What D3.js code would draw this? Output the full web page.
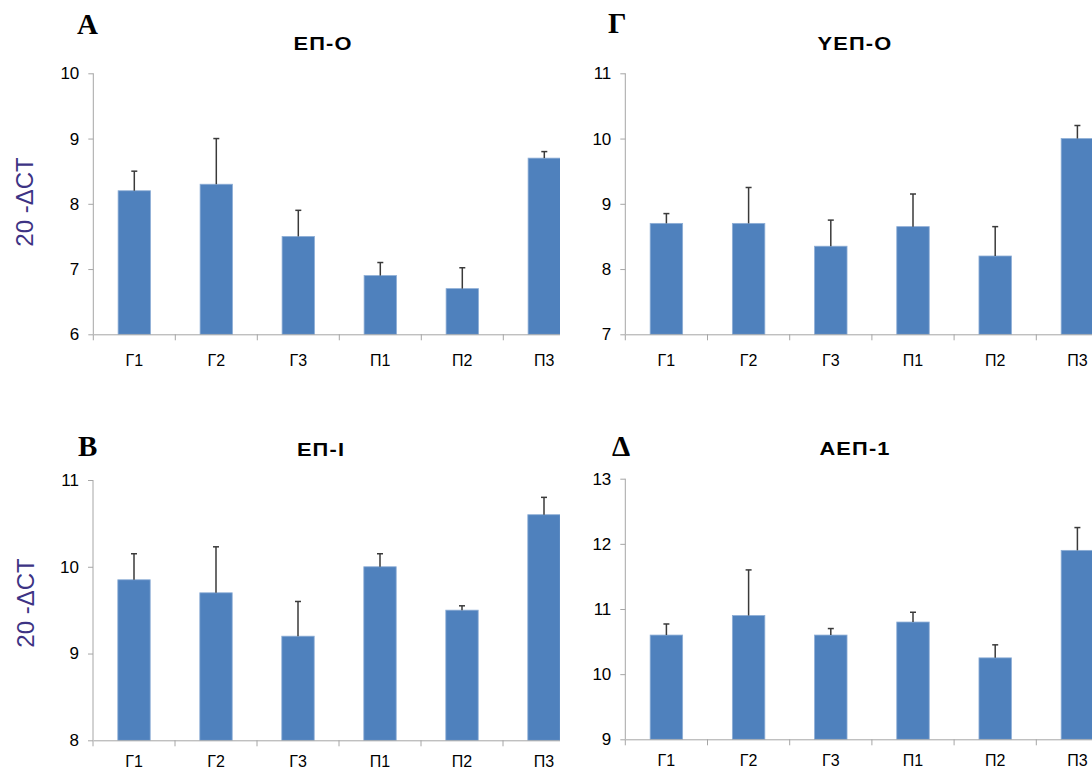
<!DOCTYPE html>
<html>
<head>
<meta charset="utf-8">
<script src="https://cdn.jsdelivr.net/npm/d3@7"></script>
<style>
  html, body { margin: 0; padding: 0; background: #ffffff; }
  svg { display: block; }
  .tick text { font-family: "Liberation Sans", Arial, sans-serif; fill: #000; }
</style>
</head>
<body>
<svg id="chart" width="1092" height="776"></svg>
<script>
// Expression levels (20 - ΔCT) per group, with upward error bars
const categories = ["Г1", "Г2", "Г3", "П1", "П2", "П3"];

const epO      = [8.2, 8.3, 7.5, 6.9, 6.7, 8.7];
const epOErr   = [0.3, 0.7, 0.4, 0.2, 0.32, 0.1];

const yepO     = [8.7, 8.7, 8.35, 8.65, 8.2, 10.0];
const yepOErr  = [0.15, 0.55, 0.4, 0.5, 0.45, 0.2];

const epI      = [9.85, 9.7, 9.2, 10.0, 9.5, 10.6];
const epIErr   = [0.3, 0.53, 0.4, 0.15, 0.05, 0.2];

const aep1     = [10.6, 10.9, 10.6, 10.8, 10.25, 11.9];
const aep1Err  = [0.17, 0.7, 0.1, 0.15, 0.2, 0.35];

const ticksA = [6, 7, 8, 9, 10];
const ticksG = [7, 8, 9, 10, 11];
const ticksB = [8, 9, 10, 11];
const ticksD = [9, 10, 11, 12, 13];

const yLabel = "20 -ΔCT";

const svg = d3.select("#chart");

const panels = [
  { letter: "А", title: "ЕП-О",  values: epO,  errs: epOErr,  ticks: ticksA, yLabel: true,
    x0: 93.3, band: 82.0, yTop: 73.3, yBot: 334.3, clip: [0, 560],
    letterX: 77, letterY: 34, titleX: 323, titleY: 50, labelX: 33, labelY: 202, catY: 366 },
  { letter: "Г", title: "YЕП-О", values: yepO, errs: yepOErr, ticks: ticksG, yLabel: false,
    x0: 625.3, band: 82.2, yTop: 73.3, yBot: 334.3, clip: [560, 1092],
    letterX: 608, letterY: 33, titleX: 855, titleY: 50, catY: 366 },
  { letter: "В", title: "ЕП-І",  values: epI,  errs: epIErr,  ticks: ticksB, yLabel: true,
    x0: 93.0, band: 82.0, yTop: 480.0, yBot: 740.3, clip: [0, 560],
    letterX: 78, letterY: 456, titleX: 321, titleY: 456, labelX: 34, labelY: 603, catY: 767 },
  { letter: "Δ", title: "АЕП-1", values: aep1, errs: aep1Err, ticks: ticksD, yLabel: false,
    x0: 625.3, band: 82.2, yTop: 478.7, yBot: 739.3, clip: [560, 1092],
    letterX: 612, letterY: 456, titleX: 855, titleY: 455, catY: 766 }
];

const defs = svg.append("defs");

panels.forEach((p, i) => {
  defs.append("clipPath").attr("id", "clip" + i)
    .append("rect")
    .attr("x", p.clip[0]).attr("y", 0)
    .attr("width", p.clip[1] - p.clip[0]).attr("height", 776);

  const g = svg.append("g").attr("clip-path", `url(#clip${i})`);

  const x = d3.scaleBand()
    .domain(categories)
    .range([p.x0, p.x0 + p.band * categories.length])
    .paddingInner(0).paddingOuter(0);

  const y = d3.scaleLinear()
    .domain([p.ticks[0], p.ticks[p.ticks.length - 1]])
    .range([p.yBot, p.yTop]);

  const barW = x.bandwidth() * 0.395;

  // bars
  g.append("g").selectAll("rect")
    .data(categories)
    .join("rect")
    .attr("x", (c) => x(c) + (x.bandwidth() - barW) / 2)
    .attr("y", (c, j) => y(p.values[j]))
    .attr("width", barW)
    .attr("height", (c, j) => y(p.ticks[0]) - y(p.values[j]))
    .attr("fill", "#4f81bd")
    .attr("stroke", "#8eaed6")
    .attr("stroke-width", 0.8);

  // upward error bars
  const eb = g.append("g").attr("stroke", "#3a3a3a").attr("stroke-width", 1.5).attr("fill", "none");
  categories.forEach((c, j) => {
    const cx = x(c) + x.bandwidth() / 2;
    const top = y(p.values[j] + p.errs[j]);
    eb.append("line").attr("x1", cx).attr("x2", cx)
      .attr("y1", y(p.values[j])).attr("y2", top);
    eb.append("line").attr("x1", cx - 3).attr("x2", cx + 3)
      .attr("y1", top).attr("y2", top);
  });

  // y axis
  const yAxis = g.append("g")
    .attr("transform", `translate(${p.x0},0)`)
    .call(d3.axisLeft(y).tickValues(p.ticks).tickSize(5).tickPadding(9).tickFormat(d3.format("d")));
  yAxis.select(".domain").attr("stroke", "#a6a6a6").attr("d", `M0,${p.yBot}V${p.yTop}`);
  yAxis.selectAll(".tick line").attr("stroke", "#a6a6a6");
  yAxis.selectAll(".tick text").attr("font-size", 17);

  // x axis: category labels centred in bands, tick marks on band boundaries
  const xAxis = g.append("g")
    .attr("transform", `translate(0,${p.yBot})`)
    .call(d3.axisBottom(x).tickSize(0).tickPadding(0));
  xAxis.select(".domain").attr("stroke", "#a6a6a6");
  xAxis.selectAll(".tick text")
    .attr("font-size", 16)
    .attr("dy", null)
    .attr("y", p.catY - p.yBot);

  const bounds = categories.map((c) => x(c)).concat([x.range()[1]]);
  xAxis.append("g").selectAll("line")
    .data(bounds)
    .join("line")
    .attr("x1", (d) => d).attr("x2", (d) => d)
    .attr("y1", 0).attr("y2", 6)
    .attr("stroke", "#a6a6a6");

  // panel letter
  svg.append("text")
    .attr("x", p.letterX).attr("y", p.letterY)
    .attr("font-family", "'Liberation Serif', 'Times New Roman', serif")
    .attr("font-weight", "bold")
    .attr("font-size", 29)
    .attr("fill", "#000")
    .text(p.letter);

  // panel title (slightly widened glyphs)
  svg.append("text")
    .attr("transform", `translate(${p.titleX},${p.titleY}) scale(1.15,1)`)
    .attr("text-anchor", "middle")
    .attr("font-family", "'Liberation Sans', Arial, sans-serif")
    .attr("font-weight", "bold")
    .attr("font-size", 19)
    .attr("letter-spacing", 1)
    .attr("fill", "#000")
    .text(p.title);

  // y axis label
  if (p.yLabel) {
    svg.append("text")
      .attr("transform", `translate(${p.labelX},${p.labelY}) rotate(-90)`)
      .attr("text-anchor", "middle")
      .attr("font-family", "'Liberation Sans', Arial, sans-serif")
      .attr("font-size", 24)
      .attr("fill", "#3d3384")
      .text(yLabel);
  }
});
</script>
</body>
</html>
